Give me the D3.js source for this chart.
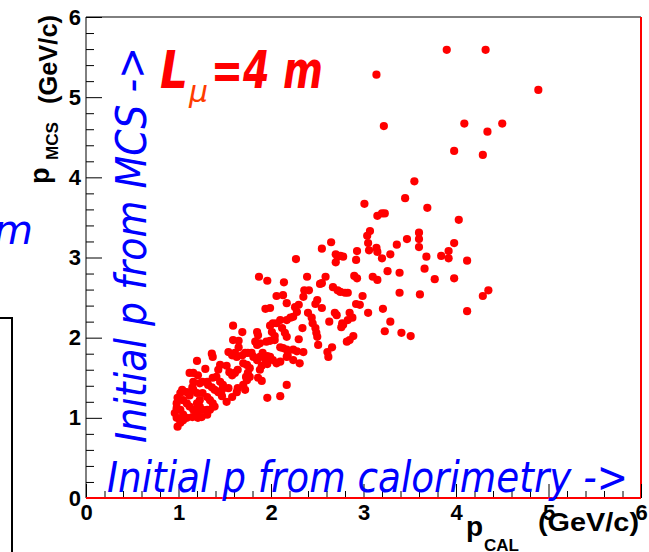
<!DOCTYPE html>
<html><head><meta charset="utf-8">
<script src="https://cdn.jsdelivr.net/npm/d3@7"></script>
<style>body{margin:0;background:#fff} svg{display:block}</style>
</head><body>
<svg id="c" width="649" height="552"></svg>
<script>
// p from calorimetry (GeV/c)
const pCal = [
3.90,4.32,4.89,3.14,3.22,4.09,4.50,4.34,3.98,4.29,
3.55,3.45,3.69,3.01,3.15,3.20,3.23,4.03,3.07,3.04,
3.05,3.60,3.60,3.60,3.47,3.98,3.36,2.65,2.55,2.93,
3.06,3.14,3.15,3.92,3.92,3.84,3.68,3.29,3.20,2.70,
2.72,2.75,2.78,2.70,2.92,2.27,4.12,3.66,3.26,3.39,
3.77,3.98,1.87,2.39,2.59,2.90,2.93,3.10,3.15,1.96,
2.14,2.55,2.53,4.35,4.29,2.67,2.72,2.75,2.80,2.83,
2.99,3.39,3.61,2.36,2.41,2.35,2.06,2.13,2.17,2.26,
2.30,2.50,2.48,2.92,2.96,3.21,2.55,4.12,1.99,1.94,
2.28,2.40,2.44,2.45,2.48,2.49,2.50,2.69,2.71,2.63,
2.77,2.76,2.78,2.85,2.88,2.83,3.05,3.29,3.23,3.41,
3.51,2.89,2.85,2.82,2.51,2.66,2.61,2.62,2.10,2.17,
2.21,2.24,2.12,2.15,2.17,2.34,2.30,2.10,2.13,2.17,
2.18,2.17,2.24,2.28,2.35,2.24,2.31,2.10,2.17,2.10,
1.96,1.59,1.69,1.85,1.86,1.99,2.02,2.06,2.01,2.04,
1.59,1.65,1.83,1.85,1.88,1.95,1.99,2.04,1.36,1.37,
1.20,1.54,1.58,1.61,1.65,1.63,1.69,1.72,1.75,1.79,
1.81,1.85,1.88,1.91,1.96,1.99,2.02,2.06,1.70,1.74,
1.77,1.75,1.73,1.74,1.77,1.64,1.61,1.58,1.55,1.52,
1.45,1.43,1.41,1.37,1.29,1.12,1.16,1.21,1.88,1.86,
1.90,1.45,1.48,1.47,1.43,1.39,1.36,1.32,1.31,1.26,
1.23,1.16,1.15,1.16,1.20,1.12,1.09,1.04,1.02,0.99,
0.98,0.98,0.96,0.98,0.99,1.64,1.63,1.58,1.52,1.47,
1.26,1.31,1.34,1.37,1.39,1.34,1.31,1.05,1.09,1.12,
1.16,1.20,1.15,1.09,1.05,1.02,1.21,1.25,1.31,1.26,
1.23,1.20,1.23,1.02,1.05,
1.94,1.96,1.90,1.70,1.54,1.72
];
// p from multiple Coulomb scattering (GeV/c)
const pMcs = [
5.59,5.59,5.09,5.28,4.64,4.67,4.67,4.57,4.33,4.28,
3.95,3.74,3.62,3.67,3.52,3.55,3.55,3.47,3.33,3.27,
3.18,3.31,3.23,3.13,3.23,3.18,3.16,3.19,3.11,3.08,
3.09,3.12,3.07,3.08,2.99,3.02,3.01,3.04,2.99,3.04,
3.01,3.02,3.01,2.94,2.97,2.98,2.96,2.86,2.83,2.81,
2.73,2.74,2.76,2.76,2.76,2.77,2.74,2.76,2.72,2.71,
2.69,2.68,2.67,2.59,2.52,2.63,2.59,2.57,2.56,2.56,
2.52,2.56,2.54,2.59,2.59,2.51,2.52,2.53,2.43,2.38,
2.41,2.47,2.42,2.42,2.41,2.36,2.37,2.33,2.37,2.36,
2.32,2.31,2.25,2.18,2.12,2.06,2.01,2.31,2.28,2.20,
2.18,2.13,2.16,2.31,2.25,2.22,2.31,2.20,2.08,2.06,
2.02,2.02,1.97,1.95,1.91,1.88,1.82,1.76,2.22,2.22,
2.25,2.26,2.12,2.06,2.01,2.12,1.98,1.88,1.87,1.85,
1.78,1.76,1.85,1.83,1.82,1.72,1.68,1.70,1.41,1.27,
1.25,2.15,2.07,2.07,2.03,2.15,2.18,2.18,2.07,2.02,
1.97,1.96,1.95,1.91,1.93,1.95,1.96,1.97,1.80,1.76,
1.71,1.82,1.78,1.81,1.88,1.76,1.78,1.81,1.81,1.81,
1.76,1.72,1.76,1.81,1.77,1.76,1.72,1.68,1.68,1.66,
1.62,1.56,1.51,1.47,1.51,1.60,1.56,1.53,1.57,1.65,
1.66,1.60,1.51,1.50,1.61,1.56,1.56,1.53,1.60,1.50,
1.46,1.45,1.41,1.35,1.32,1.35,1.38,1.41,1.45,1.45,
1.43,1.45,1.38,1.35,1.31,1.28,1.32,1.35,1.31,1.25,
1.18,1.12,1.06,1.00,0.89,1.37,1.32,1.26,1.20,1.27,
1.31,1.26,1.22,1.18,1.14,1.10,1.10,1.22,1.18,1.14,
1.10,1.06,1.01,1.00,1.04,1.10,1.00,1.01,1.04,1.10,
1.14,1.18,1.22,0.94,0.97,
1.72,1.67,1.65,1.41,1.37,1.35
];
const xTicks = [0,1,2,3,4,5,6];
const yTicks = [0,1,2,3,4,5,6];
const xTitle = ["p", "CAL", "(GeV/c)"];
const yTitle = ["p", "MCS", "(GeV/c)"];
const lenLabel = ["L", "\u03bc", "=4 m"];
const hNote = "Initial p from calorimetry ->";
const vNote = "Initial p from MCS ->";

const svg = d3.select("#c");
svg.append("rect").attr("width",649).attr("height",552).attr("fill","#fff");

const x = d3.scaleLinear().domain([0,6]).range([86,641]);
const y = d3.scaleLinear().domain([0,6]).range([498,17]);
const axisFont = "'Liberation Sans', Arial, Helvetica, sans-serif";
const noteFont = "'Comic Sans MS', 'DejaVu Sans', sans-serif";

// neighbouring panel remnants
svg.append("path").attr("d","M0,318H12V552").attr("fill","none").attr("stroke","#000").attr("stroke-width",2);
svg.append("text").attr("x",-6).attr("y",244).attr("font-family",noteFont).attr("font-style","italic")
  .attr("font-size",40).attr("fill","#0000ff").text("m");

// frame
svg.append("line").attr("x1",x(0)).attr("x2",x(6)).attr("y1",y(6)).attr("y2",y(6)).attr("stroke","#000").attr("stroke-width",1);
svg.append("line").attr("x1",x(0)).attr("x2",x(0)).attr("y1",y(6)).attr("y2",y(0)).attr("stroke","#000").attr("stroke-width",1);
svg.append("line").attr("x1",x(6)).attr("x2",x(6)).attr("y1",y(6)).attr("y2",y(0)).attr("stroke","#ff0000").attr("stroke-width",2);

const minor = d3.range(0, 30).map(i => i/5).filter(v => Math.abs(v - Math.round(v)) > 1e-6);

function styleAxis(g){
  g.select(".domain").remove();
  g.selectAll("line").attr("stroke","#000").attr("stroke-width",1);
  g.selectAll("text").attr("font-family",axisFont).attr("font-weight","bold").attr("font-size",22).attr("fill","#000");
}
// y axis
const gyMin = svg.append("g").attr("transform",`translate(${x(0)},0)`)
  .call(d3.axisLeft(y).tickValues(minor).tickSize(-8).tickFormat(""));
styleAxis(gyMin);
const gy = svg.append("g").attr("transform",`translate(${x(0)},0)`)
  .call(d3.axisLeft(y).tickValues(yTicks).tickSize(-16).tickPadding(5).tickFormat(d3.format("d")));
styleAxis(gy);
// x axis
const gxMin = svg.append("g").attr("transform",`translate(0,${y(0)})`)
  .call(d3.axisBottom(x).tickValues(minor).tickSize(-7).tickFormat(""));
styleAxis(gxMin);
const gx = svg.append("g").attr("transform",`translate(0,${y(0)})`)
  .call(d3.axisBottom(x).tickValues(xTicks).tickSize(-14).tickPadding(6).tickFormat(d3.format("d")));
styleAxis(gx);

// bottom red line
svg.append("line").attr("x1",x(0)).attr("x2",x(6)).attr("y1",y(0)).attr("y2",y(0)).attr("stroke","#ff0000").attr("stroke-width",2);

// points
svg.append("g").selectAll("circle").data(d3.range(pCal.length)).join("circle")
  .attr("cx", i => x(pCal[i])).attr("cy", i => y(pMcs[i])).attr("r",4.1).attr("fill","#ff0000");

// axis titles
const xt = svg.append("text").attr("font-family",axisFont).attr("font-weight","bold").attr("fill","#000");
xt.append("tspan").attr("x",466).attr("y",536).attr("font-size",28).text(xTitle[0]);
xt.append("tspan").attr("x",484).attr("y",551).attr("font-size",17).text(xTitle[1]);
xt.append("tspan").attr("x",538).attr("y",531).attr("font-size",26).attr("textLength",101).attr("lengthAdjust","spacingAndGlyphs").text(xTitle[2]);

const yt = svg.append("g");
yt.append("text").attr("transform","translate(49,184) rotate(-90)").attr("font-family",axisFont).attr("font-weight","bold")
  .attr("font-size",27).text(yTitle[0]);
yt.append("text").attr("transform","translate(58,160) rotate(-90)").attr("font-family",axisFont).attr("font-weight","bold")
  .attr("font-size",16).attr("textLength",38).attr("lengthAdjust","spacingAndGlyphs").text(yTitle[1]);
yt.append("text").attr("transform","translate(57,104) rotate(-90)").attr("font-family",axisFont).attr("font-weight","bold")
  .attr("font-size",25).attr("textLength",89).attr("lengthAdjust","spacingAndGlyphs").text(yTitle[2]);

// L_mu label
svg.append("text").attr("x",160).attr("y",88).attr("font-family",noteFont).attr("font-weight","bold").attr("font-style","italic")
  .attr("font-size",52).attr("fill","#ff0000").attr("textLength",28).attr("lengthAdjust","spacingAndGlyphs").text(lenLabel[0]);
svg.append("text").attr("x",189).attr("y",102).attr("font-family",noteFont).attr("font-style","italic")
  .attr("font-size",30).attr("fill","#ff3c00").text(lenLabel[1]);
svg.append("text").attr("x",211).attr("y",88).attr("font-family",noteFont).attr("font-weight","bold").attr("font-style","italic")
  .attr("font-size",52).attr("fill","#ff0000").attr("textLength",112).attr("lengthAdjust","spacingAndGlyphs").text(lenLabel[2]);

// blue notes
svg.append("text").attr("x",107).attr("y",492).attr("font-family",noteFont).attr("font-style","italic")
  .attr("font-size",42).attr("fill","#0000ff").attr("textLength",521).attr("lengthAdjust","spacingAndGlyphs").text(hNote);
svg.append("text").attr("transform","translate(146,443) rotate(-90)").attr("font-family",noteFont).attr("font-style","italic")
  .attr("font-size",42).attr("fill","#0000ff").attr("textLength",396).attr("lengthAdjust","spacingAndGlyphs").text(vNote);
</script>
</body></html>
